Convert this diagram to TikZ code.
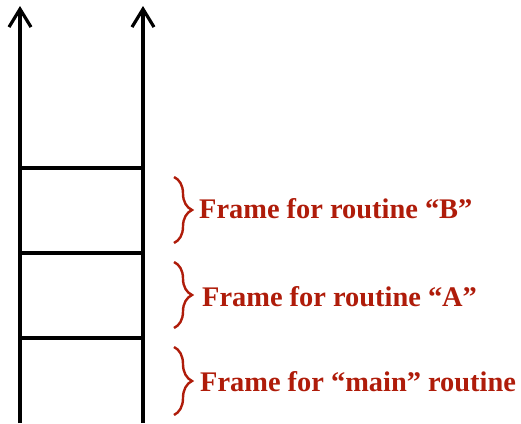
\documentclass[tikz,border=0pt]{standalone}
\usepackage{fontspec}
\setmainfont{Liberation Serif}
\usetikzlibrary{arrows.meta,decorations.pathreplacing}
\definecolor{framered}{RGB}{175,28,10}
\tikzset{
  wall/.style={line width=3.2pt},
  framebrace/.style={framered, line width=2.4pt,
    decorate, decoration={brace, amplitude=18pt}},
  framelabel/.style={framered, anchor=base west, inner sep=0pt,
    font=\fontsize{28.4}{32}\selectfont\bfseries}
}
\begin{document}
\begin{tikzpicture}[x=1pt, y=-1pt, >={Straight Barb[length=18pt,width=22pt]}]
  \useasboundingbox (0,0) rectangle (521,423);
  % stack walls
  \coordinate (lb) at (20,423);
  \coordinate (lt) at (20,6);
  \coordinate (rb) at (143,423);
  \coordinate (rt) at (143,6);
  \draw[wall,->] (lb) -- (lt);
  \draw[wall,->] (rb) -- (rt);
  % frame borders
  \foreach \y/\n in {168/b, 253/a, 338/m} {
    \coordinate (\n l) at (20,\y);
    \coordinate (\n r) at (143,\y);
    \draw[wall] (\n l) -- (\n r);
  }
  % braces and labels
  \coordinate (btop) at (174,177);
  \coordinate (bbot) at (174,243);
  \coordinate (atop) at (174,262);
  \coordinate (abot) at (174,328);
  \coordinate (mtop) at (174,347);
  \coordinate (mbot) at (174,415);
  \draw[framebrace] (btop) -- (bbot);
  \draw[framebrace] (atop) -- (abot);
  \draw[framebrace] (mtop) -- (mbot);
  \node[framelabel] (blabel) at (199,218) {Frame for routine “B”};
  \node[framelabel] (alabel) at (202,306) {Frame for routine “A”};
  \node[framelabel] (mlabel) at (200,391) {Frame for “main” routine};
\end{tikzpicture}
\end{document}
